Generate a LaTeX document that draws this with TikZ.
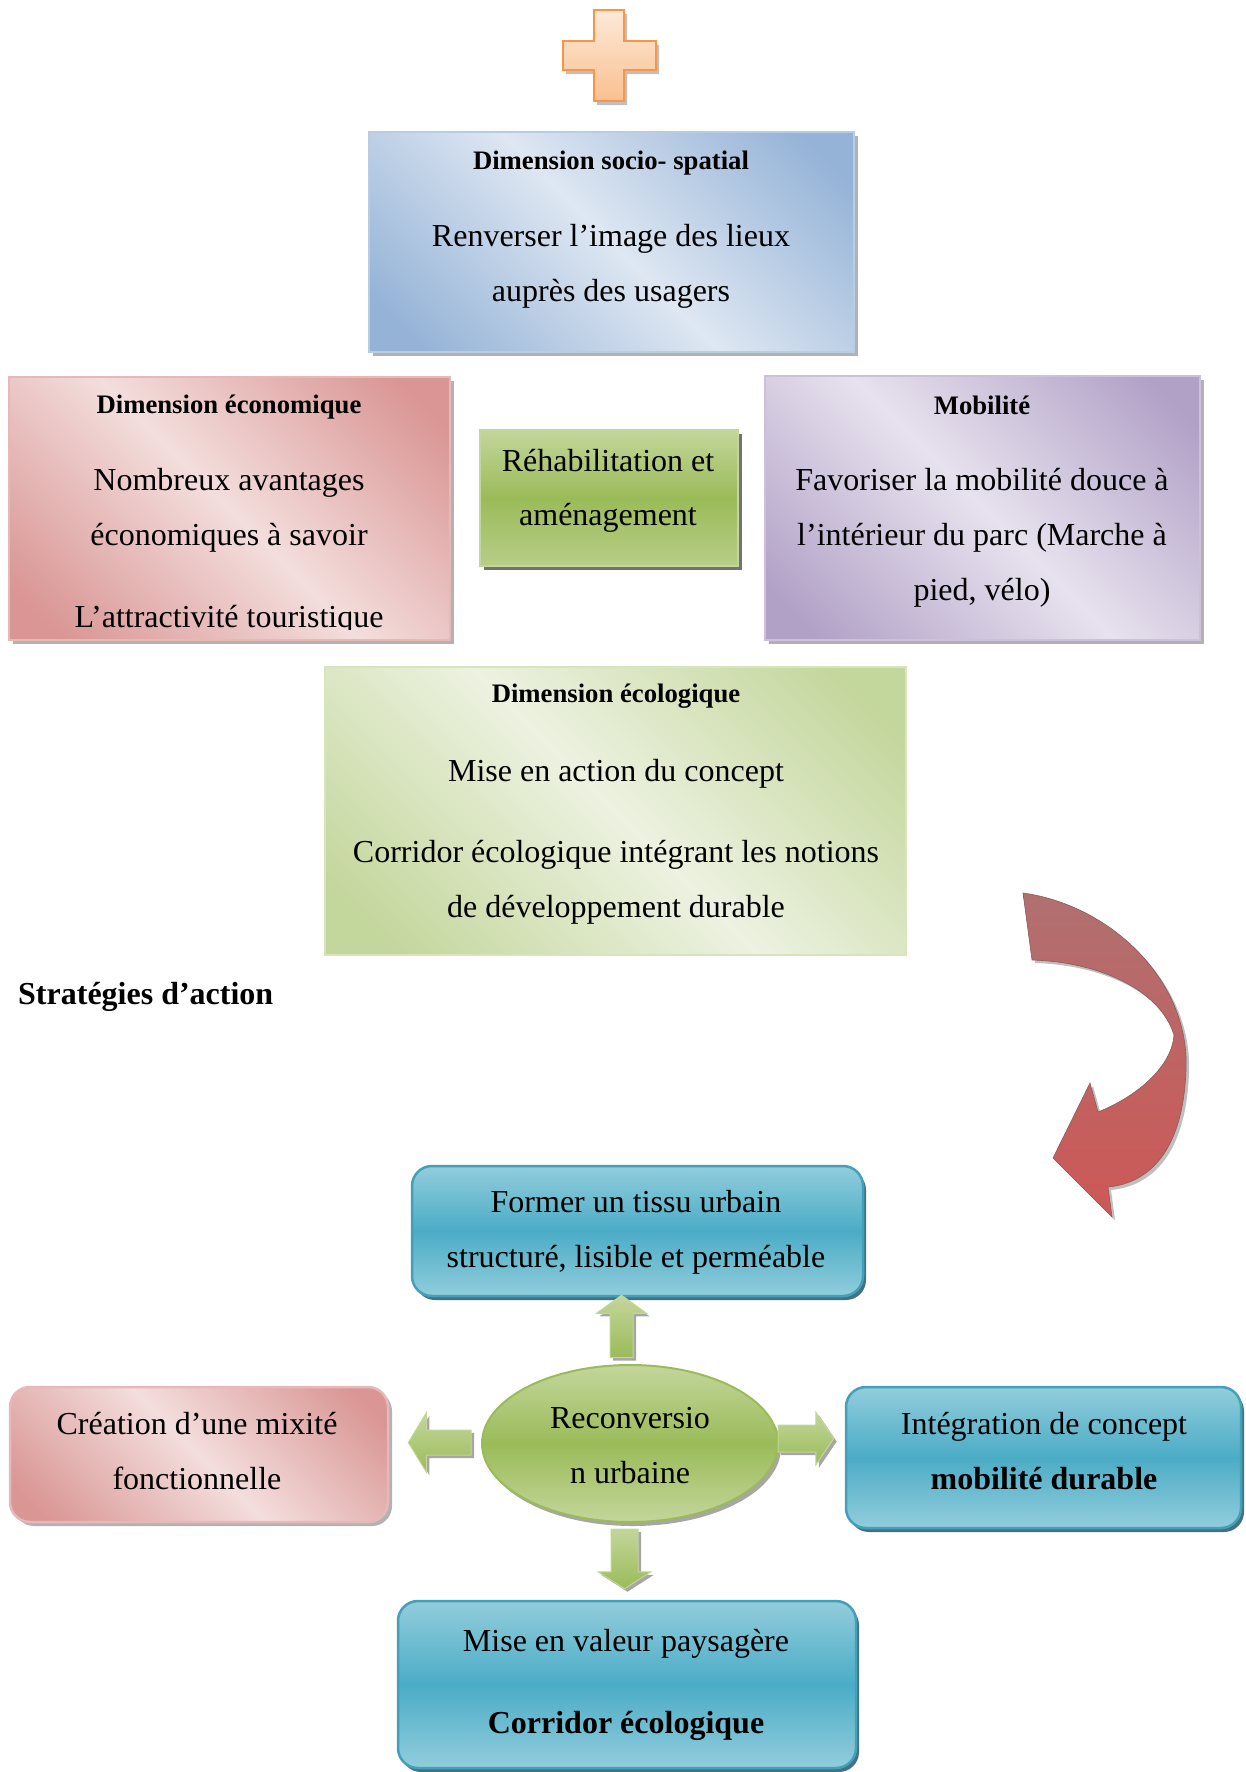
\documentclass[tikz,border=0pt]{standalone}
\usepackage{fontspec}
\setmainfont{Liberation Serif}
\usetikzlibrary{shapes.geometric,shadows,calc}

\definecolor{bluL}{RGB}{222,231,242}
\definecolor{bluD}{RGB}{149,179,215}
\definecolor{bluB}{RGB}{184,204,228}
\definecolor{redL}{RGB}{243,222,221}
\definecolor{redD}{RGB}{217,150,148}
\definecolor{redB}{RGB}{230,185,184}
\definecolor{purL}{RGB}{231,226,238}
\definecolor{purD}{RGB}{178,161,199}
\definecolor{purB}{RGB}{204,193,218}
\definecolor{ecoL}{RGB}{237,242,225}
\definecolor{ecoD}{RGB}{195,214,155}
\definecolor{ecoB}{RGB}{215,228,189}
\definecolor{grnL}{RGB}{195,214,155}
\definecolor{grnD}{RGB}{155,187,89}
\definecolor{grnB}{RGB}{130,160,70}
\definecolor{aquL}{RGB}{146,205,220}
\definecolor{aquD}{RGB}{75,172,198}
\definecolor{aquB}{RGB}{67,160,186}
\definecolor{aquS}{RGB}{33,88,104}
\definecolor{orgL}{RGB}{253,233,217}
\definecolor{orgD}{RGB}{250,192,144}
\definecolor{orgB}{RGB}{247,150,70}
\definecolor{arrT}{RGB}{176,112,112}
\definecolor{arrM}{RGB}{188,100,100}
\definecolor{arrB}{RGB}{205,88,86}

\pgfdeclarehorizontalshading{bluediag}{100bp}{color(0bp)=(bluD); color(20bp)=(bluD); color(50bp)=(bluL); color(80bp)=(bluD); color(100bp)=(bluD)}
\pgfdeclarehorizontalshading{reddiag}{100bp}{color(0bp)=(redD); color(20bp)=(redD); color(50bp)=(redL); color(80bp)=(redD); color(100bp)=(redD)}
\pgfdeclarehorizontalshading{purdiag}{100bp}{color(0bp)=(purD); color(20bp)=(purD); color(50bp)=(purL); color(80bp)=(purD); color(100bp)=(purD)}
\pgfdeclarehorizontalshading{ecodiag}{100bp}{color(0bp)=(ecoD); color(20bp)=(ecoD); color(50bp)=(ecoL); color(80bp)=(ecoD); color(100bp)=(ecoD)}

\newcommand\gblock[6]{% name, base, tip, half shaft, half head, head length
  \coordinate (#1-neck) at ($(#3)!#6!(#2)$);
  \path[garrow] ($(#2)!#4!90:(#3)$) -- ($(#1-neck)!#4!90:(#3)$) -- ($(#1-neck)!#5!90:(#3)$) -- (#3)
     -- ($(#1-neck)!#5!270:(#3)$) -- ($(#1-neck)!#4!270:(#3)$) -- ($(#2)!#4!270:(#3)$) -- cycle;
}

\tikzset{
  shad/.style={drop shadow={shadow xshift=4pt, shadow yshift=-4pt, fill=black, opacity=0.3}},
  dbox/.style={rectangle, inner sep=0pt, line width=2pt, shade, shading angle=45},
  bluebox/.style={dbox, shad, draw=bluB, shading=bluediag},
  redbox/.style={dbox, shad, draw=redB, shading=reddiag},
  purbox/.style={dbox, shad, draw=purB, shading=purdiag},
  ecobox/.style={dbox, draw=ecoB, shading=ecodiag},
  grnbox/.style={rectangle, inner sep=0pt, line width=2pt, draw=grnL, top color=grnL, bottom color=grnL!70!grnD, middle color=grnD,
     drop shadow={shadow xshift=4pt, shadow yshift=-4pt, fill=black, opacity=0.55}},
  aqbox/.style={rectangle, rounded corners=20pt, inner sep=0pt, draw=aquB, line width=2.5pt,
     top color=aquL, bottom color=aquL, middle color=aquD,
     drop shadow={shadow xshift=3pt, shadow yshift=-4pt, fill=aquS, opacity=0.85}},
  rrbox/.style={rectangle, rounded corners=20pt, inner sep=0pt, line width=2.5pt, draw=redB, shade, shading angle=45, shading=reddiag,
     drop shadow={shadow xshift=4pt, shadow yshift=-4pt, fill=black, opacity=0.3}},
  gell/.style={ellipse, inner sep=0pt, line width=2pt, draw=grnD, top color=grnL, bottom color=grnL, middle color=grnD,
     drop shadow={shadow xshift=3pt, shadow yshift=-4pt, fill=black, opacity=0.35}},
  garrow/.style={draw=grnL, line width=1pt, top color=grnL, bottom color=grnD,
     drop shadow={shadow xshift=3pt, shadow yshift=-3pt, fill=black, opacity=0.35}},
  body/.style={font=\fontsize{32}{55}\selectfont, inner sep=0pt, anchor=base},
  ttl/.style={font=\fontsize{26.7}{32}\selectfont\bfseries, inner sep=0pt, anchor=base},
}

\begin{document}
\begin{tikzpicture}[x=1pt,y=-1pt]
\useasboundingbox (0,0) rectangle (1245,1772);

% plus sign
\draw[draw=orgB, line width=2.5pt, top color=orgL, bottom color=orgD,
      drop shadow={shadow xshift=3pt, shadow yshift=-4pt, fill=black, opacity=0.25}]
  (594,10) -- (624,10) -- (624,41) -- (656,41) -- (656,70) -- (624,70) -- (624,101)
  -- (594,101) -- (594,70) -- (563,70) -- (563,41) -- (594,41) -- cycle;

% upper boxes
\node[bluebox, minimum width=485pt, minimum height=220pt] (socio) at (611.5,242) {};
\node[redbox, minimum width=441pt, minimum height=263pt] (econ) at (229.5,508.5) {};
\node[grnbox, minimum width=258pt, minimum height=136pt] (rehab) at (609,498) {};
\node[purbox, minimum width=435pt, minimum height=264pt] (mob) at (982.5,508) {};
\node[ecobox, minimum width=581pt, minimum height=288pt] (ecol) at (615.5,811) {};

\node[ttl] (t1) at (611,169) {Dimension socio- spatial};
\node[body] (t2) at (611,246) {Renverser l’image des lieux};
\node[body] (t3) at (611,301) {auprès des usagers};

\node[ttl] (e1) at (229,413) {Dimension économique};
\node[body] (e2) at (229,490) {Nombreux avantages};
\node[body] (e3) at (229,545) {économiques à savoir};
\begin{scope}
  \clip ([yshift=12pt]econ.south west) rectangle (econ.north east);
  \node[body] (e4) at (229,627) {L’attractivité touristique};
\end{scope}

\node[body] (r1) at (608,471) {Réhabilitation et};
\node[body] (r2) at (608,525) {aménagement};

\node[ttl] (m1) at (982,414) {Mobilité};
\node[body] (m2) at (982,490) {Favoriser la mobilité douce à};
\node[body] (m3) at (982,545) {l’intérieur du parc (Marche à};
\node[body] (m4) at (982,600) {pied, vélo)};

\node[ttl] (c1) at (616,702) {Dimension écologique};
\node[body] (c2) at (616,781) {Mise en action du concept};
\node[body] (c3) at (616,862) {Corridor écologique intégrant les notions};
\node[body] (c4) at (616,917) {de développement durable};

\node[body, anchor=base west, font=\fontsize{32}{38}\selectfont\bfseries] (strat) at (18,1004) {Stratégies d’action};

% curved ribbon arrow
\path[top color=arrT, middle color=arrM, bottom color=arrB, draw=arrT!80!black, line width=0.6pt,
      drop shadow={shadow xshift=3pt, shadow yshift=-3pt, fill=black, opacity=0.25}]
  (1023,893) .. controls (1110,905) and (1190,980) .. (1186,1070)
  .. controls (1183,1150) and (1150,1183) .. (1108,1187)
  -- (1112,1217) -- (1053,1158) -- (1090,1083) -- (1098,1112)
  .. controls (1140,1095) and (1172,1065) .. (1174,1035)
  .. controls (1160,990) and (1100,962) .. (1032,960) -- cycle;

% lower part
\node[aqbox, minimum width=451pt, minimum height=130pt] (former) at (637.5,1231) {};
\node[gell, minimum width=296pt, minimum height=157pt] (ell) at (630,1443.5) {};
\node[rrbox, minimum width=378pt, minimum height=135pt] (crea) at (199,1454.5) {};
\node[aqbox, minimum width=395pt, minimum height=141pt] (integ) at (1043.5,1457.5) {};
\node[aqbox, minimum width=458pt, minimum height=167pt] (mise) at (627,1684.5) {};

\node[body] (f1) at (636,1212) {Former un tissu urbain};
\node[body] (f2) at (636,1267) {structuré, lisible et perméable};
\node[body] (u1) at (630,1428) {Reconversio};
\node[body] (u2) at (630,1483) {n urbaine};
\node[body] (x1) at (197,1434) {Création d’une mixité};
\node[body] (x2) at (197,1489) {fonctionnelle};
\node[body] (i1) at (1044,1434) {Intégration de concept};
\node[body, font=\fontsize{32}{55}\selectfont\bfseries] (i2) at (1044,1489) {mobilité durable};
\node[body] (v1) at (626,1651) {Mise en valeur paysagère};
\node[body, font=\fontsize{32}{55}\selectfont\bfseries] (v2) at (626,1733) {Corridor écologique};

% green block arrows
\coordinate (upA) at ($(ell.north)+(-8.5,-6.5)$);
\coordinate (upB) at ($(upA |- former.south)+(0,-2)$);
\coordinate (dnA) at ($(ell.south)+(-5.5,6)$);
\coordinate (dnB) at ($(dnA |- mise.north)+(0,-11)$);
\coordinate (lfA) at ($(ell.west)+(-10,-1)$);
\coordinate (lfB) at ($(lfA -| crea.east)+(19,0)$);
\coordinate (rtA) at ($(ell.east)+(-1,-5)$);
\coordinate (rtB) at ($(rtA -| integ.west)+(-11,0)$);
\gblock{up}{upA}{upB}{11.5pt}{25pt}{18pt}
\gblock{dn}{dnA}{dnB}{13.5pt}{26.5pt}{17pt}
\gblock{lf}{lfA}{lfB}{12.5pt}{29.5pt}{18pt}
\gblock{rt}{rtA}{rtB}{13.5pt}{26.5pt}{18pt}
\end{tikzpicture}
\end{document}
